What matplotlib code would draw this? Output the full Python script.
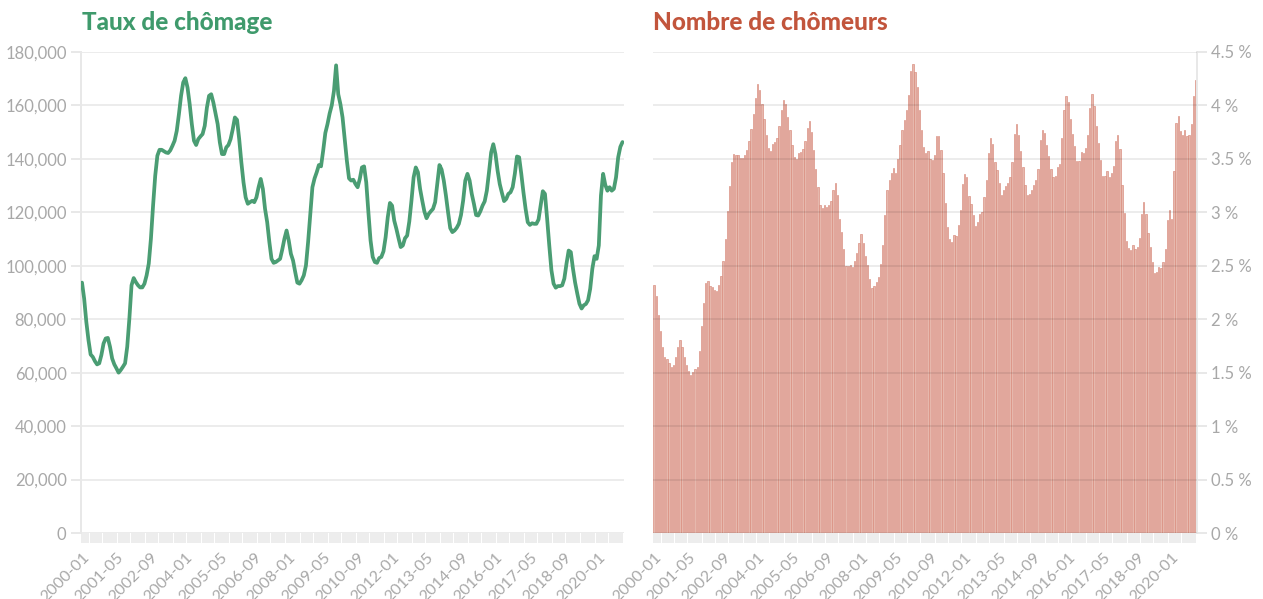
import matplotlib
matplotlib.use("Agg")
import matplotlib.pyplot as plt
from matplotlib.ticker import FixedLocator, FuncFormatter

# ---------------- data ----------------
start_year, start_month = 2000, 1
n_months = 252

# left panel: line values
line_values = [
    93700, 87700, 79000, 72200, 66800, 65900, 64300, 63100, 63500, 66600,
    70900, 72800, 73000, 69700, 65300, 63100, 61600, 60000, 61000, 62200,
    63500, 69700, 80300, 92700, 95400, 93900, 92700, 91900, 91900, 93300,
    96400, 100800, 110100, 122500, 133700, 141200, 143400, 143400, 142900, 142400,
    142200, 143200, 144900, 146800, 150500, 156700, 163600, 168600, 170200, 166700,
    160500, 153000, 146800, 145200, 147400, 148400, 149300, 152400, 159200, 163600,
    164200, 161100, 157000, 153000, 146200, 141800, 141800, 144300, 145200, 147400,
    151100, 155500, 154600, 147400, 138700, 131200, 125600, 123200, 123800, 124300,
    123800, 125600, 129400, 132500, 128700, 121300, 116300, 108900, 102600, 101100,
    101400, 102000, 102600, 106100, 110100, 113200, 109500, 104500, 102000, 97700,
    93700, 93300, 94600, 96400, 100100, 108900, 119400, 129400, 132700, 135000,
    137700, 137200, 143100, 149700, 153000, 157000, 160100, 165400, 175000, 164200,
    160500, 155500, 147400, 139300, 132700, 131900, 132200, 130600, 129400, 132500,
    136800, 137200, 131200, 120000, 109500, 103300, 101400, 101100, 102900, 103300,
    105400, 110700, 118200, 123500, 122500, 116900, 113800, 110300, 107000, 107600,
    110300, 111300, 116600, 124400, 133100, 136800, 135000, 128800, 124400, 120300,
    117800, 119400, 120400, 121300, 123800, 130600, 137700, 136000, 131900, 126300,
    120000, 114100, 112600, 113200, 114200, 115700, 119000, 124400, 131900, 134400,
    131900, 126900, 123200, 119000, 118800, 120400, 122500, 124100, 128100, 135000,
    142400, 145500, 141800, 135600, 130600, 127300, 124200, 125000, 126900, 127500,
    129400, 134400, 140900, 140600, 134400, 127500, 121300, 116300, 115300, 115900,
    115700, 115700, 117300, 122500, 127900, 126900, 117600, 107600, 98300, 93300,
    91800, 92400, 92400, 92700, 95200, 100800, 105700, 105100, 98900, 93700,
    89600, 85800, 84000, 85200, 85700, 87100, 91400, 98900, 103600, 102600,
    107600, 126300, 134400, 130300, 128100, 129400, 128100, 128800, 133100, 140600,
    144500, 146300,
]

# right panel: bar values (%)
bar_values = [
    2.316, 2.217, 2.039, 1.890, 1.743, 1.650, 1.625, 1.587, 1.556, 1.572,
    1.643, 1.743, 1.805, 1.743, 1.643, 1.572, 1.519, 1.478, 1.510, 1.531,
    1.556, 1.703, 1.936, 2.148, 2.341, 2.360, 2.310, 2.298, 2.273, 2.267,
    2.320, 2.403, 2.547, 2.752, 3.011, 3.245, 3.472, 3.544, 3.540, 3.534,
    3.512, 3.512, 3.537, 3.587, 3.668, 3.777, 3.917, 4.070, 4.204, 4.148,
    4.017, 3.877, 3.721, 3.603, 3.572, 3.643, 3.659, 3.699, 3.805, 3.961,
    4.048, 4.011, 3.893, 3.768, 3.634, 3.519, 3.500, 3.556, 3.565, 3.597,
    3.668, 3.793, 3.855, 3.752, 3.581, 3.410, 3.238, 3.067, 3.045, 3.073,
    3.051, 3.073, 3.104, 3.213, 3.276, 3.160, 2.942, 2.818, 2.653, 2.497,
    2.497, 2.506, 2.491, 2.547, 2.622, 2.715, 2.796, 2.709, 2.590, 2.506,
    2.372, 2.288, 2.310, 2.350, 2.397, 2.512, 2.693, 2.974, 3.207, 3.307,
    3.369, 3.419, 3.369, 3.503, 3.628, 3.768, 3.861, 3.955, 4.095, 4.319,
    4.391, 4.313, 4.173, 3.961, 3.774, 3.607, 3.556, 3.572, 3.503, 3.488,
    3.540, 3.712, 3.718, 3.581, 3.369, 3.083, 2.864, 2.755, 2.724, 2.787,
    2.777, 2.880, 3.026, 3.263, 3.357, 3.326, 3.154, 3.076, 2.974, 2.871,
    2.905, 2.989, 3.005, 3.139, 3.301, 3.556, 3.699, 3.643, 3.472, 3.394,
    3.276, 3.160, 3.207, 3.245, 3.276, 3.332, 3.472, 3.731, 3.830, 3.727,
    3.572, 3.425, 3.254, 3.160, 3.176, 3.207, 3.254, 3.307, 3.410, 3.681,
    3.768, 3.743, 3.628, 3.525, 3.410, 3.332, 3.341, 3.425, 3.456, 3.699,
    3.961, 4.089, 4.033, 3.877, 3.737, 3.618, 3.478, 3.478, 3.565, 3.556,
    3.606, 3.727, 3.980, 4.111, 3.992, 3.805, 3.653, 3.494, 3.338, 3.341,
    3.388, 3.332, 3.369, 3.431, 3.665, 3.727, 3.590, 3.254, 2.995, 2.734,
    2.662, 2.646, 2.693, 2.656, 2.678, 2.756, 2.989, 3.092, 2.983, 2.809,
    2.678, 2.531, 2.428, 2.438, 2.491, 2.475, 2.537, 2.653, 2.927, 3.020,
    2.942, 3.388, 3.836, 3.899, 3.758, 3.721, 3.774, 3.712, 3.721, 3.830,
    4.086, 4.241,
]

months = []
for k in range(n_months):
    y = start_year + (start_month - 1 + k) // 12
    m = (start_month - 1 + k) % 12 + 1
    months.append(f"{y}-{m:02d}")

label_step = 16
left_yticks = [0, 20000, 40000, 60000, 80000, 100000, 120000, 140000, 160000, 180000]
right_yticks = [0, 0.5, 1, 1.5, 2, 2.5, 3, 3.5, 4, 4.5]

title_left = "Taux de chômage"
title_right = "Nombre de chômeurs"

# ---------------- style ----------------
plt.rcParams['font.family'] = ['Lato', 'DejaVu Sans']
GREEN = "#4a9d73"
GREEN_T = "#3f9a6c"
RED_T = "#c2553c"
BAR_FACE = "#e6b8ad"
BAR_EDGE = "#d8897a"
TICKC = "#e4e4e4"
LABELC = "#a8a8a8"

W, H = 1263, 599
fig = plt.figure(figsize=(W / 100, H / 100), dpi=100)

def fx(px):
    return px / W

def fy(py):
    return 1 - py / H

top_px, bot_px = 52, 533
axL = fig.add_axes([fx(80.5), fy(bot_px), fx(624 - 80.5), (bot_px - top_px) / H])
axR = fig.add_axes([fx(652.5), fy(bot_px), fx(1197 - 652.5), (bot_px - top_px) / H])

x = list(range(n_months))

def style_x(ax):
    ax.set_xlim(-0.7, n_months - 0.3)
    ax.xaxis.set_major_locator(FixedLocator(list(range(0, n_months, label_step))))
    ax.xaxis.set_minor_locator(FixedLocator(x))
    ax.set_xticklabels([months[i] for i in range(0, n_months, label_step)],
                       rotation=45, ha='right', va='top', rotation_mode='anchor')
    ax.tick_params(axis='x', which='both', length=7.3, width=1.3, color="#ececec",
                   labelsize=11.5, labelcolor=LABELC, pad=5)

# ----- left: line -----
axL.plot(x, line_values, color=GREEN, lw=2.7, solid_joinstyle='round',
         solid_capstyle='round', zorder=3)
axL.set_ylim(0, 180000)
axL.set_yticks(left_yticks)
axL.yaxis.set_major_formatter(FuncFormatter(lambda v, p: f"{int(v):,}"))
axL.tick_params(axis='y', length=7, width=1.2, color=TICKC, labelsize=12,
                labelcolor=LABELC, pad=3)
axL.grid(axis='y', color='black', alpha=0.075, lw=1.4)
axL.set_axisbelow(True)
style_x(axL)
for s in ['top', 'right', 'bottom']:
    axL.spines[s].set_visible(False)
axL.spines['left'].set_color("#e8e8e8")
axL.spines['left'].set_linewidth(1.4)

# ----- right: bars -----
axR.bar(x, bar_values, width=0.6, color=BAR_FACE, edgecolor=BAR_EDGE,
        linewidth=0.45, zorder=2)
axR.set_ylim(0, 4.5)
axR.yaxis.tick_right()
axR.set_yticks(right_yticks)
axR.yaxis.set_major_formatter(FuncFormatter(lambda v, p: f"{v:g} %"))
axR.tick_params(axis='y', length=7, width=1.2, color=TICKC, labelsize=12,
                labelcolor=LABELC, pad=3)
axR.grid(axis='y', color='black', alpha=0.075, lw=1.4, zorder=3)
axR.set_axisbelow(False)
style_x(axR)
for s in ['top', 'left', 'bottom']:
    axR.spines[s].set_visible(False)
axR.spines['right'].set_color("#e8e8e8")
axR.spines['right'].set_linewidth(1.4)

# ----- titles -----
fig.text(fx(82), fy(22), title_left, color=GREEN_T, fontsize=17.5,
         fontweight='black', ha='left', va='center')
fig.text(fx(653), fy(22), title_right, color=RED_T, fontsize=17.5,
         fontweight='black', ha='left', va='center')

fig.savefig("out.png", dpi=100)
